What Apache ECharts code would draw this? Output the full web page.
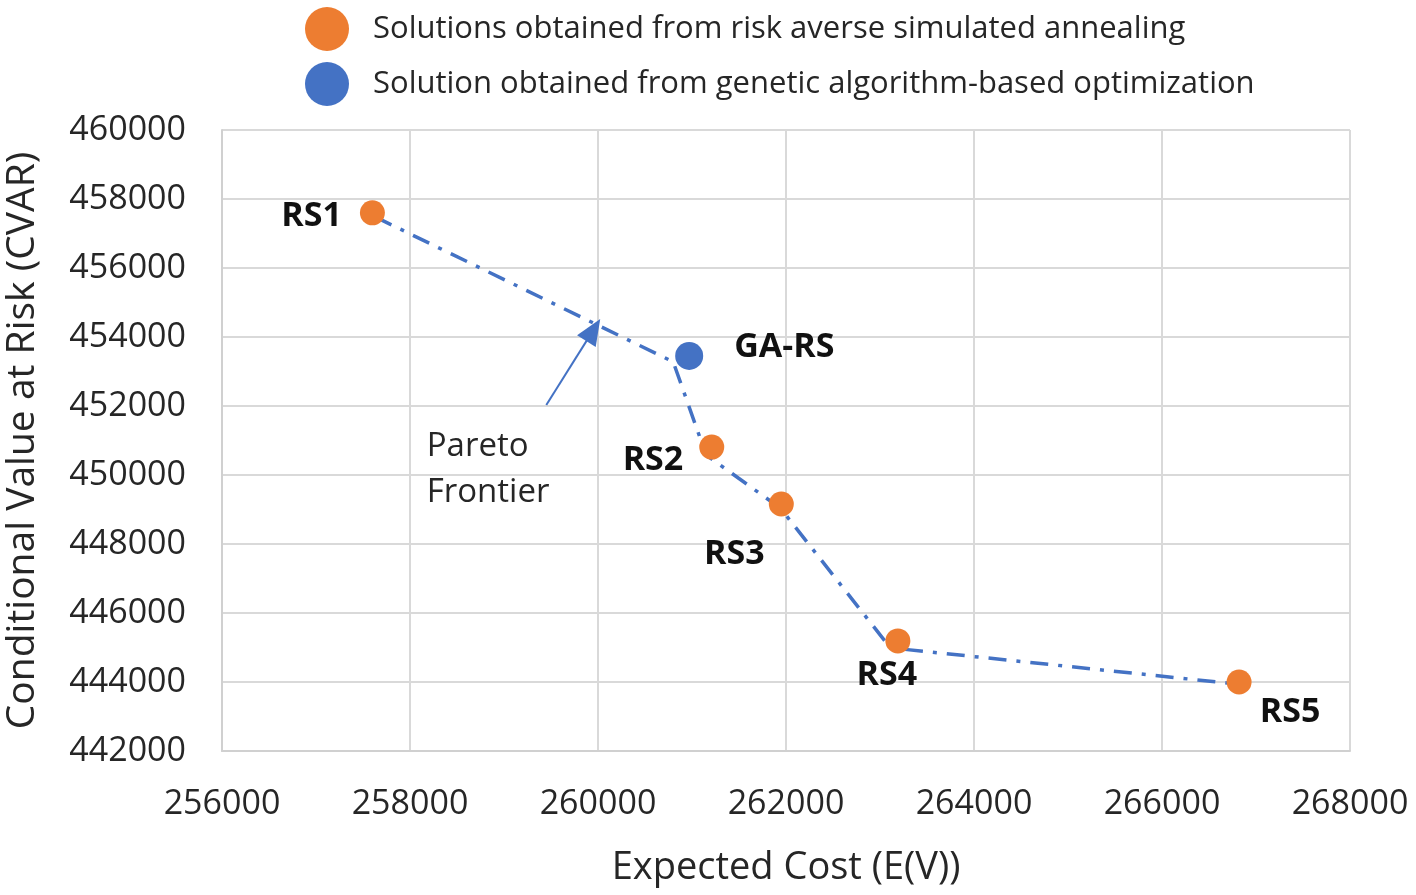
<!DOCTYPE html>
<html>
<head>
<meta charset="utf-8">
<script src="https://cdn.jsdelivr.net/npm/echarts@6/dist/echarts.min.js"></script>
<style>
html,body{margin:0;padding:0;background:#fff;}
#chart{width:1416px;height:895px;}
</style>
</head>
<body>
<div id="chart"></div>
<script>
// ---- data ----
const rsNames = ['RS1', 'RS2', 'RS3', 'RS4', 'RS5'];
const rsCost = [257600, 261210, 261950, 263190, 266820];
const rsCvar = [457600, 450810, 449160, 445190, 444000];

const gaNames = ['GA-RS'];
const gaCost = [260970];
const gaCvar = [453450];

const frontierCost = [257630, 260800, 261150, 261940, 263110, 266800];
const frontierCvar = [457480, 453280, 450580, 449040, 444990, 443940];

const arrowFrom = [259450, 452030];
const arrowTo = [259950, 454200];
const paretoTextAt = [258210, 450150];
const paretoText = 'Pareto\nFrontier';

const legendNames = ['Solutions obtained from risk averse simulated annealing',
                     'Solution obtained from genetic algorithm-based optimization'];
const xTitle = 'Expected Cost (E(V))';
const yTitle = 'Conditional Value at Risk (CVAR)';

// ---- label placement (style) ----
const labelPlacement = {
  'RS1': {position: 'left', offset: [-13, 4]},
  'RS2': {position: 'left', offset: [-11, 13]},
  'RS3': {position: 'bottom', offset: [-47, 16]},
  'RS4': {position: 'bottom', offset: [-11, 0]},
  'RS5': {position: 'bottom', offset: [51, -4]},
  'GA-RS': {position: 'right', offset: [26, -9]}
};

const FONT = '"Open Sans", "Noto Sans", sans-serif';
const txt = '#262626';

function mkPoints(names, xs, ys) {
  return names.map((n, i) => ({
    name: n,
    value: [xs[i], ys[i]],
    label: Object.assign({show: true, formatter: n}, labelPlacement[n])
  }));
}

const chart = echarts.init(document.getElementById('chart'), null, {renderer: 'canvas'});
chart.setOption({
  animation: false,
  backgroundColor: '#fff',
  grid: {left: 222, right: 66, top: 130, bottom: 144, containLabel: false, outerBoundsMode: 'none'},
  legend: {
    data: legendNames,
    orient: 'vertical',
    left: 300,
    top: 2,
    itemWidth: 50,
    itemHeight: 44,
    itemGap: 11,
    icon: 'circle',
    textStyle: {fontFamily: FONT, fontSize: 31, color: txt, padding: [0, 0, 0, 16]}
  },
  xAxis: {
    type: 'value',
    min: 256000, max: 268000, interval: 2000,
    name: xTitle,
    nameLocation: 'middle',
    nameGap: 98,
    nameTextStyle: {fontFamily: FONT, fontSize: 38, color: txt},
    axisLine: {show: true, lineStyle: {color: '#d0d0d0', width: 2}},
    axisTick: {show: false},
    axisLabel: {fontFamily: FONT, fontSize: 34, color: txt, margin: 36, formatter: v => String(v)},
    splitLine: {show: true, lineStyle: {color: '#d9d9d9', width: 2}}
  },
  yAxis: {
    type: 'value',
    min: 442000, max: 460000, interval: 2000,
    name: yTitle,
    nameLocation: 'middle',
    nameGap: 180,
    nameTextStyle: {fontFamily: FONT, fontSize: 39, color: txt},
    axisLine: {show: true, lineStyle: {color: '#d0d0d0', width: 2}},
    axisTick: {show: false},
    axisLabel: {fontFamily: FONT, fontSize: 34, color: txt, margin: 36, formatter: v => String(v)},
    splitLine: {show: true, lineStyle: {color: '#d9d9d9', width: 2}}
  },
  series: [
    {
      name: 'frontier',
      type: 'line',
      data: frontierCost.map((x, i) => [x, frontierCvar[i]]),
      showSymbol: false,
      symbol: 'none',
      lineStyle: {color: '#4472C4', width: 3.5, type: [18, 10, 4, 10]},
      z: 3,
      markLine: {
        silent: true,
        symbol: ['none', 'triangle'],
        symbolSize: [22, 26],
        lineStyle: {color: '#4472C4', width: 2, type: 'solid'},
        label: {show: false},
        data: [[{coord: arrowFrom}, {coord: arrowTo}]]
      }
    },
    {
      name: legendNames[0],
      type: 'scatter',
      symbolSize: 25,
      itemStyle: {color: '#ED7D31', opacity: 1},
      label: {fontFamily: FONT, fontSize: 34, fontWeight: 'bold', color: '#111'},
      data: mkPoints(rsNames, rsCost, rsCvar),
      z: 4
    },
    {
      name: legendNames[1],
      type: 'scatter',
      symbolSize: 28,
      itemStyle: {color: '#4472C4', opacity: 1},
      label: {fontFamily: FONT, fontSize: 34, fontWeight: 'bold', color: '#111'},
      data: mkPoints(gaNames, gaCost, gaCvar),
      z: 4
    },
    {
      name: 'paretoText',
      type: 'scatter',
      symbolSize: 0,
      itemStyle: {opacity: 1},
      data: [{value: paretoTextAt}],
      label: {
        show: true, position: 'right', offset: [-8, 0],
        formatter: paretoText,
        fontFamily: FONT, fontSize: 33, lineHeight: 46, color: '#262626', opacity: 1, align: 'left'
      },
      silent: true
    }
  ]
});
</script>
</body>
</html>
